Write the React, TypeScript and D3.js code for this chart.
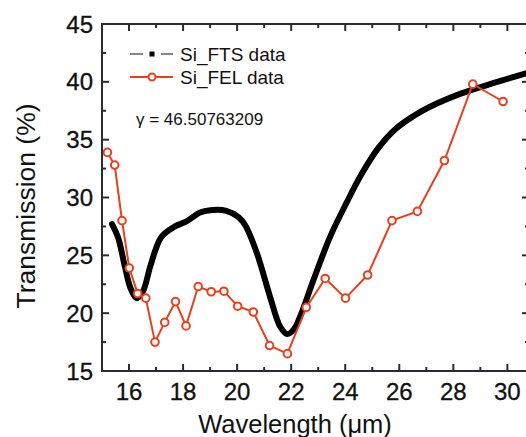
import React from "react";
import * as d3 from "d3";

const ftsWavelength = [15.37, 15.6, 15.85, 16.05, 16.28, 16.5, 16.78, 17.0, 17.2, 17.7, 18.14, 18.63, 19.0, 19.6, 20.05, 20.3, 20.73, 21.22, 21.6, 21.85, 22.1, 22.33, 22.83, 23.44, 24.06, 24.6, 25.2, 25.85, 26.5, 27.1, 28.3, 29.5, 30.8];
const ftsTransmission = [27.7, 26.5, 24.0, 22.2, 21.3, 21.8, 24.0, 25.6, 26.6, 27.5, 27.95, 28.7, 28.9, 28.85, 28.3, 27.6, 25.2, 21.4, 18.8, 18.2, 18.6, 19.7, 22.9, 26.6, 29.6, 32.0, 34.2, 35.9, 37.0, 37.8, 39.0, 39.9, 40.8];

const felWavelength = [15.2, 15.47, 15.74, 16.01, 16.32, 16.62, 16.96, 17.32, 17.72, 18.11, 18.56, 19.04, 19.51, 20.02, 20.6, 21.2, 21.86, 22.56, 23.26, 24.01, 24.83, 25.73, 26.67, 27.67, 28.72, 29.84];
const felTransmission = [33.9, 32.8, 28.0, 23.9, 21.7, 21.3, 17.5, 19.2, 21.0, 18.9, 22.3, 21.85, 21.9, 20.6, 20.1, 17.2, 16.5, 20.5, 23.0, 21.3, 23.3, 28.0, 28.8, 33.2, 39.8, 38.3];

const xMajorTicks = [16, 18, 20, 22, 24, 26, 28, 30];
const xMinorTicks = [17, 19, 21, 23, 25, 27, 29];
const yMajorTicks = [15, 20, 25, 30, 35, 40, 45];
const yMinorTicks = [17.5, 22.5, 27.5, 32.5, 37.5, 42.5];

const legendLabels = ["Si_FTS data", "Si_FEL data"];
const gammaText = "\u03b3 = 46.50763209";
const xTitle = "Wavelength (\u03bcm)";
const yTitle = "Transmission (%)";

const RED = "#e8401c";
const AXIS = "#2a2a33";
const FONT = "'Liberation Sans', Arial, sans-serif";

export default function App() {
  const W = 526, H = 437;
  const left = 102, right = 529, top = 24, bottom = 371;
  const x = d3.scaleLinear().domain([15, 30.8]).range([left, right]);
  const y = d3.scaleLinear().domain([15, 45]).range([bottom, top]);

  const fts = ftsWavelength.map((w, i) => [w, ftsTransmission[i]] as [number, number]);
  const fel = felWavelength.map((w, i) => [w, felTransmission[i]] as [number, number]);

  const ftsLine = d3.line<[number, number]>().x(d => x(d[0])).y(d => y(d[1])).curve(d3.curveCatmullRom.alpha(0.5));
  const felLine = d3.line<[number, number]>().x(d => x(d[0])).y(d => y(d[1]));

  const tickText = { fontSize: 24, fontFamily: FONT, fill: "#111", stroke: "#111", strokeWidth: 0.3 };

  return (
    <svg width={W} height={H} style={{ position: "absolute", left: 0, top: 0, background: "#fff" }}>
      <path d={ftsLine(fts) || ""} fill="none" stroke="#000" strokeWidth={6} strokeLinejoin="round" strokeLinecap="round" />
      <path d={felLine(fel) || ""} fill="none" stroke={RED} strokeWidth={2} />
      {fel.map((d, i) => (
        <circle key={i} cx={x(d[0])} cy={y(d[1])} r={3.8} fill="#fff" stroke={RED} strokeWidth={2} />
      ))}

      {/* frame */}
      <rect x={left} y={top} width={right - left} height={bottom - top} fill="none" stroke={AXIS} strokeWidth={2} />

      {/* x ticks */}
      {xMajorTicks.map(t => (
        <g key={"xM" + t}>
          <line x1={x(t)} x2={x(t)} y1={bottom} y2={bottom - 7} stroke={AXIS} strokeWidth={2} />
          <line x1={x(t)} x2={x(t)} y1={top} y2={top + 7} stroke={AXIS} strokeWidth={2} />
          <text x={x(t)} y={400} textAnchor="middle" {...tickText}>{t}</text>
        </g>
      ))}
      {xMinorTicks.map(t => (
        <g key={"xm" + t}>
          <line x1={x(t)} x2={x(t)} y1={bottom} y2={bottom - 4} stroke={AXIS} strokeWidth={2} />
          <line x1={x(t)} x2={x(t)} y1={top} y2={top + 4} stroke={AXIS} strokeWidth={2} />
        </g>
      ))}

      {/* y ticks */}
      {yMajorTicks.map(t => (
        <g key={"yM" + t}>
          <line x1={left} x2={left + 7} y1={y(t)} y2={y(t)} stroke={AXIS} strokeWidth={2} />
          <line x1={right} x2={right - 7} y1={y(t)} y2={y(t)} stroke={AXIS} strokeWidth={2} />
          <text x={93} y={y(t) + 8.5} textAnchor="end" {...tickText}>{t}</text>
        </g>
      ))}
      {yMinorTicks.map(t => (
        <g key={"ym" + t}>
          <line x1={left} x2={left + 4} y1={y(t)} y2={y(t)} stroke={AXIS} strokeWidth={2} />
          <line x1={right} x2={right - 4} y1={y(t)} y2={y(t)} stroke={AXIS} strokeWidth={2} />
        </g>
      ))}

      {/* titles */}
      <text x={295} y={433} textAnchor="middle" fontSize={25.5} fontFamily={FONT} fill="#111">{xTitle}</text>
      <text transform={`translate(35,206) rotate(-90)`} textAnchor="middle" fontSize={26.5} fontFamily={FONT} fill="#111">{yTitle}</text>

      {/* legend */}
      <g>
        <line x1={130} x2={143} y1={54} y2={54} stroke="#888" strokeWidth={2} />
        <line x1={161} x2={173} y1={54} y2={54} stroke="#888" strokeWidth={2} />
        <rect x={149.5} y={51.5} width={5} height={5} fill="#000" />
        <text x={180} y={60.5} fontSize={19} fontFamily={FONT} fill="#111">{legendLabels[0]}</text>

        <line x1={130} x2={173} y1={77} y2={77} stroke={RED} strokeWidth={2} />
        <circle cx={152} cy={77} r={3.5} fill="#fff" stroke={RED} strokeWidth={2} />
        <text x={180} y={83.5} fontSize={19} fontFamily={FONT} fill="#111">{legendLabels[1]}</text>

        <text x={136} y={125} fontSize={17} fontFamily={FONT} fill="#111">{gammaText}</text>
      </g>
    </svg>
  );
}
